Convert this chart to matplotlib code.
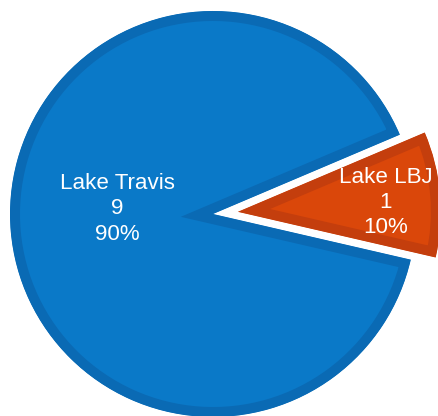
import matplotlib
matplotlib.use("Agg")
import matplotlib.pyplot as plt
from matplotlib.patches import PathPatch

# data
categories = ["Lake Travis", "Lake LBJ"]
values = [9, 1]
percent_labels = ["90%", "10%"]

fill_colors = ["#0A79C8", "#DA470A"]
edge_colors = ["#0A6AB4", "#C43E0D"]

plt.rcParams['font.family'] = ['Liberation Sans', 'DejaVu Sans']

W, H, DPI = 438, 416, 100
fig = plt.figure(figsize=(W / DPI, H / DPI), dpi=DPI)
ax = fig.add_axes([0, 0, 1, 1])

R_PX = 203.0
CX, CY = 213.0, 214.0  # pixel center (from top-left)

wedges, _ = ax.pie(values, startangle=23, counterclock=True,
                   explode=[0, 0.123], colors=fill_colors, radius=1.0)

ax.set_xlim(-CX / R_PX, (W - CX) / R_PX)
ax.set_ylim(-(H - CY) / R_PX, CY / R_PX)
ax.set_aspect('auto')
ax.axis('off')

border_px = 10.0
lw_pt = 2 * border_px * 72.0 / DPI
for w, ec in zip(wedges, edge_colors):
    w.set_edgecolor(ec)
    w.set_linewidth(lw_pt)
    w.set_joinstyle('miter')
    clip = PathPatch(w.get_path(), transform=w.get_transform())
    w.set_clip_on(True)
    w.set_clip_path(clip)

# labels
label_pos = [(-0.473, 0.025), (0.850, 0.055)]
for cat, v, p, (lx, ly) in zip(categories, values, percent_labels, label_pos):
    ax.text(lx, ly, f"{cat}\n{v}\n{p}", color="white", fontsize=16.1,
            ha="center", va="center", multialignment="center",
            linespacing=1.26)

fig.savefig("out.png", dpi=DPI)
